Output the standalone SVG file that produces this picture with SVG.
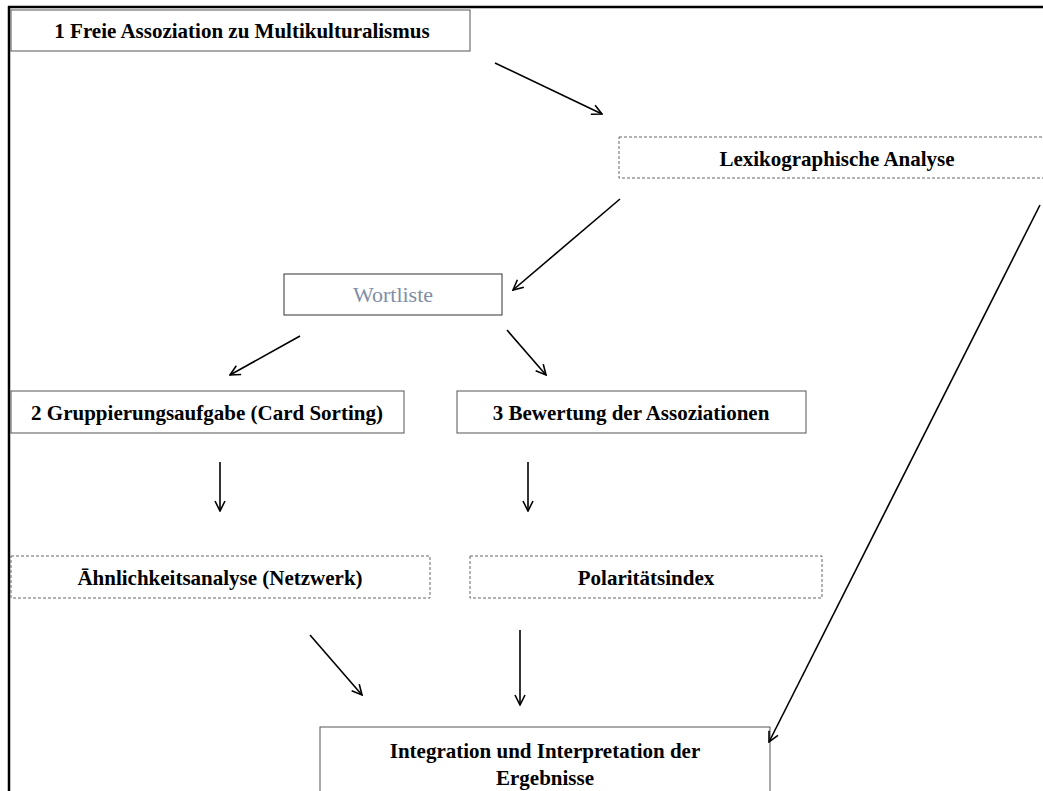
<svg xmlns="http://www.w3.org/2000/svg" width="1043" height="791" viewBox="0 0 1043 791">
<style>
.box{fill:#fff;stroke:#555;stroke-width:1}
.dash{fill:#fff;stroke:#666;stroke-width:1;stroke-dasharray:3,2}
.t{font-family:"Liberation Serif","Times New Roman",serif;font-weight:bold;font-size:21px;fill:#000;text-anchor:middle}
.c{stroke:#000;stroke-width:1.6;fill:none}
</style>
<defs>
<marker id="ah" viewBox="0 0 12 12" refX="11" refY="6" markerWidth="12" markerHeight="12" markerUnits="userSpaceOnUse" orient="auto">
<polyline points="1,1 11,6 1,11" fill="none" stroke="#000" stroke-width="1.6"/>
</marker>
</defs>
<rect width="1043" height="791" fill="#fff"/>
<g id="frame">
<line x1="8" y1="7" x2="1043" y2="7" stroke="#000" stroke-width="2.5"/>
<line x1="9" y1="6" x2="9" y2="791" stroke="#000" stroke-width="2.5"/>
</g>
<g id="n1"><rect class="box" x="11" y="10" width="459" height="41"/><text class="t" x="242" y="38">1 Freie Assoziation zu Multikulturalismus</text></g>
<g id="lex"><rect class="dash" x="619" y="137" width="430" height="41"/><text class="t" x="837" y="166">Lexikographische Analyse</text></g>
<g id="wort"><rect x="284" y="274" width="218" height="41" fill="#fff" stroke="#333" stroke-width="1"/><text x="393" y="302" font-family="'Liberation Serif','Times New Roman',serif" font-size="22" fill="#7f8ea6" text-anchor="middle">Wortliste</text></g>
<g id="n2"><rect class="box" x="11" y="391" width="393" height="42"/><text class="t" x="207" y="420">2 Gruppierungsaufgabe (Card Sorting)</text></g>
<g id="n3"><rect class="box" x="457" y="391" width="349" height="42"/><text class="t" x="631" y="420">3 Bewertung der Assoziationen</text></g>
<g id="aehn"><rect class="dash" x="11" y="556" width="419" height="42"/><text class="t" x="220" y="585">Āhnlichkeitsanalyse (Netzwerk)</text></g>
<g id="pol"><rect class="dash" x="470" y="556" width="352" height="42"/><text class="t" x="646" y="585">Polaritätsindex</text></g>
<g id="integ"><rect class="box" x="320" y="727" width="450" height="70"/><text class="t" x="545" y="758">Integration und Interpretation der</text><text class="t" x="545" y="785">Ergebnisse</text></g>
<g id="connectors">
<line class="c" x1="495" y1="63" x2="602" y2="114" marker-end="url(#ah)"/>
<line class="c" x1="620" y1="199" x2="513" y2="290" marker-end="url(#ah)"/>
<line class="c" x1="300" y1="336" x2="230" y2="375" marker-end="url(#ah)"/>
<line class="c" x1="507" y1="330" x2="546" y2="375" marker-end="url(#ah)"/>
<line class="c" x1="220" y1="462" x2="220" y2="511" marker-end="url(#ah)"/>
<line class="c" x1="528" y1="462" x2="528" y2="511" marker-end="url(#ah)"/>
<line class="c" x1="310" y1="635" x2="362" y2="695" marker-end="url(#ah)"/>
<line class="c" x1="520" y1="630" x2="520" y2="705" marker-end="url(#ah)"/>
<line class="c" x1="1040" y1="205" x2="769" y2="742" marker-end="url(#ah)"/>
</g>
</svg>
